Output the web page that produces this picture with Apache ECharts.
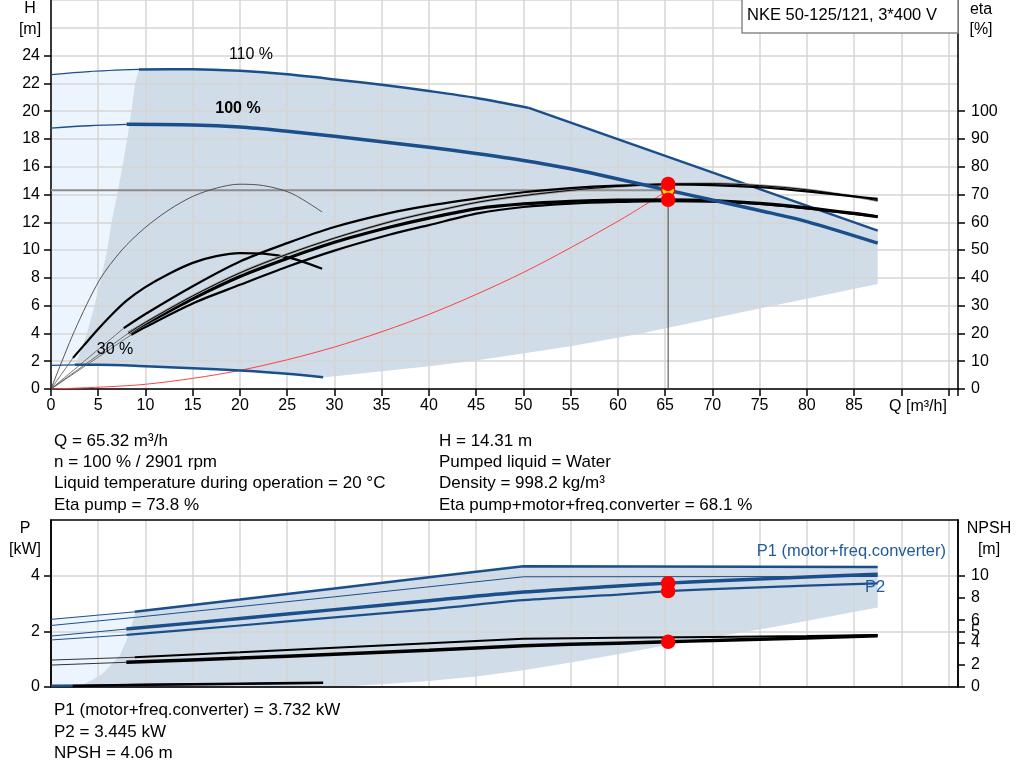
<!DOCTYPE html>
<html><head><meta charset="utf-8">
<script src="https://cdn.jsdelivr.net/npm/echarts@6/dist/echarts.min.js"></script>
<style>html,body{margin:0;padding:0;background:#fff}#c{width:1024px;height:781px}</style>
</head><body><div id="c"></div><script>
// ---------- tick labels ----------
const qTicks = [0,5,10,15,20,25,30,35,40,45,50,55,60,65,70,75,80,85];
const hTicks = [0,2,4,6,8,10,12,14,16,18,20,22,24];
const etaTicks = [0,10,20,30,40,50,60,70,80,90,100];
const pTicks = [0,2,4];
const npshTicks = [0,2,4,5,6,8,10];

// ---------- head curves (Q m3/h, H m) ----------
const h110Thin = [[0,22.63],[4,22.85],[9.3,23.0]];
const h110 = [[9.3,23.0],[15,23.02],[20,22.9],[25,22.65],[30.5,22.25],[35,21.9],[40,21.45],[45,20.95],[50.5,20.25]];
const h110Lim = [[50.5,20.25],[87.5,11.4]];
const h100Thin = [[0,18.78],[4,18.95],[8,19.05]];
const h100 = [[8,19.05],[15,19.0],[20,18.85],[25,18.55],[30,18.2],[35,17.8],[40,17.4],[45,16.95],[50,16.45],[55,15.85],[58,15.42],[65.32,14.31],[70,13.6],[75,12.85],[80,12.05],[87.5,10.5]];
const h30Thin = [[0,1.70],[2.5,1.74]];
const h30 = [[2.5,1.74],[5,1.74],[10,1.64],[15,1.5],[20,1.33],[25,1.1],[28.8,0.84]];
const sysCurve = [[0,0],[10,0.34],[20,1.34],[30,3.02],[40,5.37],[50,8.39],[60,12.07],[65.32,14.31]];

// ---------- efficiency curves (Q, eta %) ----------
const etaPump110 = [[7.7,21.9],[10,27],[15,37],[20,45.9],[25,52.5],[30,58.3],[35.8,63.3],[40,66],[45.3,68.7],[50,70.8],[55,72.3],[60,73.2],[65,73.6],[70,73.4],[75,72.6],[80,71.1],[85,69.3],[87.5,68.4]];
const etaPump100 = [[8.2,20.1],[10,24],[15,33.5],[20,41.8],[25,48.5],[30,54.3],[35.8,60.1],[40,63.5],[45.3,67.3],[50,69.6],[55,71.5],[60,72.9],[65.32,73.8],[70,73.9],[75,73.2],[80,71.7],[85,69.3],[87.5,67.8]];
const etaTot100 = [[8.2,20.1],[10,23.5],[15,32.5],[20,40.5],[25,47],[30,52.8],[35.8,58.2],[40,61.5],[45.3,65],[50,66.6],[55,67.5],[60,68],[65.32,68.1],[70,67.8],[75,66.8],[80,65.2],[85,63.2],[87.5,62]];
const etaTot110 = [[8.5,19.5],[10,22.3],[15,30.8],[20,37.5],[25,44],[30,49.8],[35.8,55.5],[40,59],[45.3,63.3],[50,65.5],[55,66.7],[60,67.3],[65,67.6],[70,67.4],[75,66.6],[80,65],[85,63],[87.5,62.1]];
const etaPump30 = [[0,0],[2.5,21],[5.15,39.3],[7.5,50],[9.9,57.9],[12.5,64.5],[15,69.3],[17.5,72.3],[19.9,73.7],[22.5,73.2],[25.4,70.5],[28.7,63.7]];
const etaTot30 = [[2.33,11.2],[3.5,15.8],[5,21.6],[6.5,27],[8,31.8],[9.9,36.5],[12.5,41.5],[15,45.4],[17.5,47.8],[20,48.9],[22.5,48.7],[25.4,47.1],[28.7,43.3]];

// ---------- operating range areas (Q, H) ----------
const hLeftEdge = [[2.6,1.74],[3.0,2.5],[3.8,4],[4.6,6],[5.3,8],[5.95,10],[6.4,12],[7.0,14],[7.55,16],[8.05,18],[8.5,20],[8.9,22],[9.3,23.0]];
const hBottomEdge = [[87.5,7.55],[75,5.8],[62.3,3.98],[55,3.07],[45,2.06],[40,1.63],[28.8,0.82],[25,1.1],[20,1.33],[15,1.5],[10,1.64],[5,1.74],[2.6,1.74]];

// ---------- power / NPSH curves (Q, P kW) / (Q, NPSH m) ----------
const p1_110Thin = [[0,2.43],[8.85,2.70]];
const p1_110 = [[8.85,2.70],[20,3.14],[30,3.54],[40,3.94],[50,4.34],[87.5,4.31]];
const p2_110 = [[0,2.21],[8.85,2.5],[20,2.89],[30,3.24],[40,3.6],[50,3.96],[87.5,3.97]];
const p1_100Thin = [[0,1.83],[7.97,2.08]];
const p1_100 = [[7.97,2.08],[20,2.46],[30,2.78],[40,3.1],[50,3.41],[60,3.63],[65.32,3.732],[70,3.81],[80,3.95],[87.5,4.05]];
const p2_100Thin = [[0,1.69],[7.97,1.87]];
const p2_100 = [[7.97,1.87],[20,2.21],[30,2.5],[40,2.79],[50,3.12],[60,3.32],[65.32,3.445],[70,3.52],[80,3.64],[87.5,3.72]];
const p_30 = [[0,0.05],[10,0.08],[20,0.11],[28.8,0.14]];
const npsh110Thin = [[0,2.42],[8.85,2.67]];
const npsh110 = [[8.85,2.67],[20,3.12],[30,3.53],[40,3.93],[50,4.33],[60,4.43],[70,4.5],[80,4.58],[87.5,4.67]];
const npsh100Thin = [[0,1.97],[7.97,2.22]];
const npsh100 = [[7.97,2.22],[20,2.6],[30,2.95],[40,3.3],[50,3.7],[60,3.94],[65.32,4.06],[70,4.18],[80,4.4],[87.5,4.6]];
const npsh30Thin = [[0,0.08],[2.3,0.1]];
const npsh30 = [[2.3,0.1],[10,0.2],[20,0.3],[28.8,0.39]];
const pLeftEdge = [[2.2,0],[3.5,0.12],[4.5,0.28],[5.5,0.49],[6.5,0.85],[7.3,1.15],[8.0,1.7],[8.6,2.3],[8.9,2.71]];
const pBottomEdge = [[87.5,2.86],[76.8,2.17],[65.1,1.5],[60,1.18],[55,0.88],[50,0.6],[45,0.38],[40,0.22],[35,0.1],[30,0],[2.2,0]];

// ---------- operating point ----------
const opQ = 65.32, opH = 14.31, opEtaPump = 73.8, opEtaTot = 68.1, opP1 = 3.732, opP2 = 3.445, opNPSH = 4.06;

const FONT = '"Liberation Sans", Arial, sans-serif';
const TF = '17px ' + FONT;
const BLUE = '#1b4f8c';
const DARK = '#d0dce8', LIGHT = '#ecf4fd';

function ln(data, xi, yi, color, width, smooth, z) {
  return {type:'line', xAxisIndex:xi, yAxisIndex:yi, data:data, showSymbol:false, symbol:'none', silent:true,
    smooth: smooth === undefined ? 0.3 : smooth, lineStyle:{color:color, width:width}, z: z || 3, animation:false};
}
function poly(points, xi, yi, color) {
  return {type:'custom', xAxisIndex:xi, yAxisIndex:yi, z:-1, silent:true, animation:false, data:[points[0]],
    renderItem:(params, api) => ({type:'polygon', shape:{points: points.map(p => api.coord(p))}, style:{fill:color}})};
}
function dot(data, xi, yi, color, border, size) {
  return {type:'scatter', xAxisIndex:xi, yAxisIndex:yi, data:data, symbolSize:size, silent:true, animation:false, z:10,
    itemStyle:{color:color, borderColor:border, borderWidth:1.5, opacity:1}};
}
function txt(x, y, text, opts) {
  return {type:'text', z:101, x:x, y:y, style:Object.assign({text:text, font:TF, fill:'#000', verticalAlign:'middle'}, opts || {})};
}

const topDark = hLeftEdge.concat(h110.slice(1), [[87.5,11.4]], hBottomEdge);
const topLight = [[0,1.70]].concat(hLeftEdge, h110Thin.slice().reverse());
const botDark = pLeftEdge.concat(p1_110.slice(1), pBottomEdge);
const botLight = [[0,0]].concat(pLeftEdge, p1_110Thin.slice().reverse());

const axisLineStyle = {lineStyle:{color:'#000', width:1.5}};
const tickStyle = {show:true, length:7, lineStyle:{color:'#000', width:1.5}};
const lbl = {color:'#000', fontSize:16, fontFamily:FONT};
const gridLine = {show:true, lineStyle:{color:'#d6d6d6', width:1.5}};

const option = {
  animation:false,
  grid:[
    {left:51, top:0, width:907, height:389, show:false},
    {left:51, top:520, width:907, height:167, show:true, borderColor:'#000', borderWidth:1.5, z:1}
  ],
  xAxis:[
    {gridIndex:0, type:'value', min:0, max:96, interval:5, axisLine:axisLineStyle, axisTick:tickStyle,
      axisLabel:Object.assign({margin:9, customValues:qTicks}, lbl), splitLine:gridLine},
    {gridIndex:1, type:'value', min:0, max:96, interval:5, axisLine:{lineStyle:{color:'#999', width:1.5}},
      axisTick:{show:false}, axisLabel:{show:false}, splitLine:gridLine}
  ],
  yAxis:[
    {gridIndex:0, type:'value', min:0, max:28, interval:2, position:'left', axisLine:{show:true, lineStyle:{color:'#000', width:1.5}},
      axisTick:Object.assign({customValues:hTicks}, tickStyle), axisLabel:Object.assign({margin:11, customValues:hTicks}, lbl), splitLine:{show:false}},
    {gridIndex:0, type:'value', min:0, max:140, interval:10, position:'right', axisLine:{show:true, lineStyle:{color:'#000', width:1.5}},
      axisTick:Object.assign({customValues:etaTicks}, tickStyle), axisLabel:Object.assign({margin:13, customValues:etaTicks}, lbl), splitLine:{show:false}},
    {gridIndex:0, type:'value', min:0, max:28, interval:2, position:'left', axisLine:{show:false}, axisTick:{show:false},
      axisLabel:{show:false}, splitLine:gridLine},
    {gridIndex:1, type:'value', min:0, max:6, interval:2, position:'left', axisLine:{show:true, lineStyle:{color:'#000', width:1.5}},
      axisTick:Object.assign({customValues:pTicks}, tickStyle), axisLabel:Object.assign({margin:11, customValues:pTicks}, lbl), splitLine:gridLine},
    {gridIndex:1, type:'value', min:0, max:15, interval:1, position:'right', axisLine:{show:true, lineStyle:{color:'#000', width:1.5}},
      axisTick:Object.assign({customValues:npshTicks}, tickStyle), axisLabel:Object.assign({margin:13, customValues:npshTicks}, lbl), splitLine:{show:false}}
  ],
  series:[
    poly(topLight, 0, 0, LIGHT),
    poly(topDark, 0, 0, DARK),
    ln([[0,opH],[opQ,opH]], 0, 0, '#8c8c8c', 2, false, 2),
    ln([[opQ,0],[opQ,opH]], 0, 0, '#444', 1, false, 2),
    ln(sysCurve, 0, 0, '#ff4040', 1, 0.3, 3),
    ln(h30Thin, 0, 0, BLUE, 1.2), ln(h30, 0, 0, BLUE, 2.5),
    ln(h110Thin, 0, 0, BLUE, 1.3), ln(h110, 0, 0, BLUE, 2.5), ln(h110Lim, 0, 0, BLUE, 2.5, false),
    ln([[0,0],etaPump110[0]], 0, 1, '#555', 0.8, false),
    ln([[0,0],etaPump100[0]], 0, 1, '#555', 0.8, false),
    ln([[0,0],etaTot110[0]], 0, 1, '#555', 0.8, false),
    ln([[0,0],etaTot30[0]], 0, 1, '#555', 0.8, false),
    ln(etaPump30, 0, 1, '#444', 0.9),
    ln(etaTot30, 0, 1, '#000', 2.2),
    ln(etaTot110, 0, 1, '#000', 2.2),
    ln(etaTot100, 0, 1, '#000', 3.2),
    ln(etaPump100, 0, 1, '#9a9a9a', 2.6),
    ln(etaPump100, 0, 1, '#000', 1),
    ln(etaPump110, 0, 1, '#000', 2.2),
    ln(h100Thin, 0, 0, BLUE, 1.4), ln(h100, 0, 0, BLUE, 3.5),
    dot([[opQ,opH]], 0, 0, '#ffe000', '#ff0000', 13),
    dot([[opQ,opEtaPump],[opQ,opEtaTot]], 0, 1, '#ff0000', '#ff0000', 13),

    poly(botLight, 1, 3, LIGHT),
    poly(botDark, 1, 3, DARK),
    ln(p_30, 1, 3, BLUE, 2),
    ln(p1_110Thin, 1, 3, BLUE, 1, false), ln(p1_110, 1, 3, BLUE, 2.5, false),
    ln(p2_110, 1, 3, BLUE, 1, false),
    ln(p2_100Thin, 1, 3, BLUE, 1, false), ln(p2_100, 1, 3, BLUE, 2.2),
    ln(p1_100Thin, 1, 3, BLUE, 1, false), ln(p1_100, 1, 3, BLUE, 3.5),
    ln(npsh110Thin, 1, 4, '#333', 1, false), ln(npsh110, 1, 4, '#000', 2, false),
    ln(npsh100Thin, 1, 4, '#333', 1, false), ln(npsh100, 1, 4, '#000', 3.5),
    ln(npsh30Thin, 1, 4, BLUE, 1.5, false), ln(npsh30, 1, 4, '#000', 2.5),
    dot([[opQ,opP1],[opQ,opP2]], 1, 3, '#ff0000', '#ff0000', 13),
    dot([[opQ,opNPSH]], 1, 4, '#ff0000', '#ff0000', 13)
  ],
  graphic:[
    {type:'rect', z:100, shape:{x:742, y:-1, width:216, height:34}, style:{fill:'#fff', stroke:'#8a8a8a', lineWidth:1.5}},
    txt(747, 15, 'NKE 50-125/121, 3*400 V', {font:'16.5px ' + FONT}),
    txt(30, 9, 'H', {align:'center', font:'16px ' + FONT}),
    txt(30, 30, '[m]', {align:'center', font:'16px ' + FONT}),
    txt(981, 10, 'eta', {align:'center', font:'16px ' + FONT}),
    txt(981, 30, '[%]', {align:'center', font:'16px ' + FONT}),
    txt(918, 407, 'Q [m³/h]', {align:'center', font:'16px ' + FONT}),
    txt(251, 55, '110 %', {align:'center', font:'16px ' + FONT}),
    txt(238, 109, '100 %', {align:'center', font:'bold 16px ' + FONT}),
    txt(115, 350, '30 %', {align:'center', font:'16px ' + FONT}),
    txt(54, 441, 'Q = 65.32 m³/h'),
    txt(54, 462, 'n = 100 % / 2901 rpm'),
    txt(54, 483, 'Liquid temperature during operation = 20 °C'),
    txt(54, 505, 'Eta pump = 73.8 %'),
    txt(439, 441, 'H = 14.31 m'),
    txt(439, 462, 'Pumped liquid = Water'),
    txt(439, 483, 'Density = 998.2 kg/m³'),
    txt(439, 505, 'Eta pump+motor+freq.converter = 68.1 %'),
    txt(25, 529, 'P', {align:'center', font:'16px ' + FONT}),
    txt(25, 550, '[kW]', {align:'center', font:'16px ' + FONT}),
    txt(989, 529, 'NPSH', {align:'center', font:'16px ' + FONT}),
    txt(989, 550, '[m]', {align:'center', font:'16px ' + FONT}),
    txt(946, 551, 'P1 (motor+freq.converter)', {align:'right', fill:'#1f5b98', font:'16.5px ' + FONT}),
    txt(865, 587, 'P2', {fill:'#1f5b98', font:'16.5px ' + FONT}),
    txt(54, 710, 'P1 (motor+freq.converter) = 3.732 kW'),
    txt(54, 732, 'P2 = 3.445 kW'),
    txt(54, 753, 'NPSH = 4.06 m')
  ]
};
const chart = echarts.init(document.getElementById('c'), null, {renderer:'canvas'});
chart.setOption(option);
</script></body></html>
